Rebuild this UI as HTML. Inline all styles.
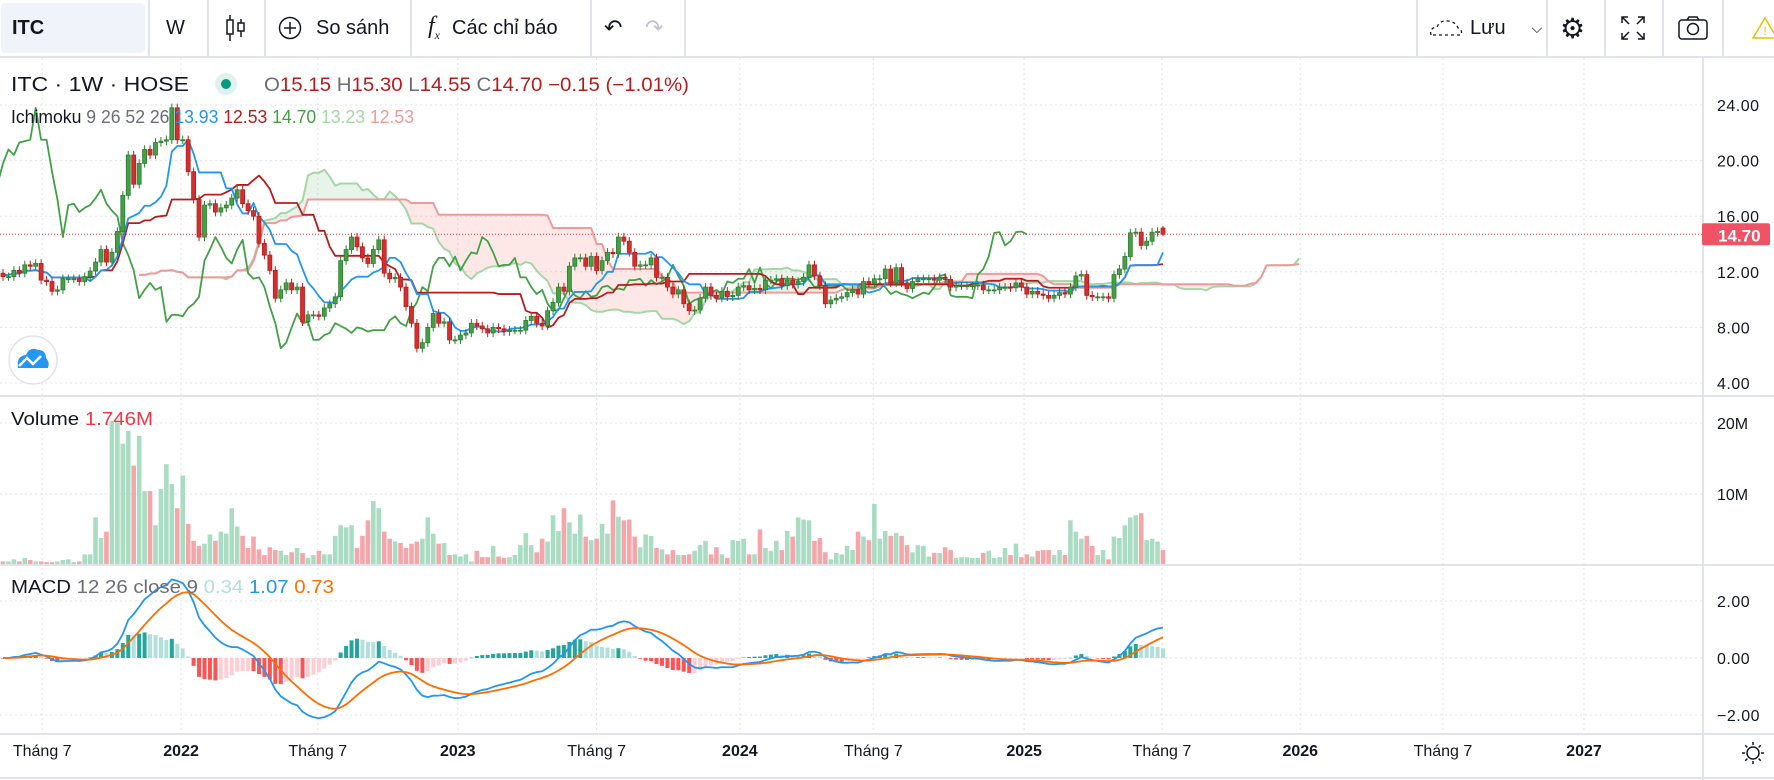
<!DOCTYPE html>
<html><head><meta charset="utf-8">
<style>
html,body{margin:0;padding:0;background:#fff;width:1774px;height:780px;overflow:hidden;font-family:"Liberation Sans",sans-serif;color:#131722}
#tb{position:absolute;left:0;top:0;width:1774px;height:56px;border-bottom:2px solid #e0e3eb;background:#fff}
.tbi{position:absolute;top:0;height:56px;display:flex;align-items:center;font-size:20px;color:#131722;white-space:nowrap}
.sep{position:absolute;top:0;width:2px;height:56px;background:#e0e3eb}
svg{position:absolute;left:0;top:0}
</style></head><body>
<div id="tb">
  <div class="tbi" style="left:1px;top:3px;height:50px;width:144px;background:#f0f3fa;border-radius:4px;font-weight:bold;padding-left:11px;box-sizing:border-box">ITC</div>
  <div class="sep" style="left:148px"></div>
  <div class="tbi" style="left:166px">W</div>
  <div class="sep" style="left:207px"></div>
  <div class="tbi" style="left:225px">
    <svg width="22" height="30" style="position:static"><line x1="5" y1="2" x2="5" y2="28" stroke="#131722" stroke-width="1.5"/><rect x="2" y="7" width="6" height="14" fill="#fff" stroke="#131722" stroke-width="1.5"/><line x1="16" y1="6" x2="16" y2="24" stroke="#131722" stroke-width="1.5"/><rect x="13" y="10" width="6" height="8" fill="#fff" stroke="#131722" stroke-width="1.5"/></svg></div>
  <div class="sep" style="left:264px"></div>
  <div class="tbi" style="left:278px">
    <svg width="24" height="24" style="position:static;margin-right:14px"><circle cx="12" cy="12" r="10.5" fill="none" stroke="#131722" stroke-width="1.5"/><line x1="12" y1="6" x2="12" y2="18" stroke="#131722" stroke-width="1.5"/><line x1="6" y1="12" x2="18" y2="12" stroke="#131722" stroke-width="1.5"/></svg>So sánh</div>
  <div class="sep" style="left:410px"></div>
  <div class="tbi" style="left:428px"><span style="font-style:italic;font-family:'Liberation Serif',serif;font-size:24px;margin-right:12px">f<sub style="font-size:12px">x</sub></span>Các chỉ báo</div>
  <div class="sep" style="left:590px"></div>
  <div class="tbi" style="left:604px;font-size:22px">↶</div>
  <div class="tbi" style="left:645px;font-size:22px;color:#c1c4cd">↷</div>
  <div class="sep" style="left:684px"></div>
  <div class="sep" style="left:1416px"></div>
  <div class="tbi" style="left:1428px"><svg width="36" height="20" style="position:static;margin-right:6px"><path d="M3 17 Q1 10 9 9 Q12 2 20 3 Q28 4 30 10 Q35 12 33 17 Z" fill="none" stroke="#131722" stroke-width="1.3" stroke-dasharray="3 3"/></svg>Lưu<span style="margin-left:26px;font-size:14px">⌵</span></div>
  <div class="sep" style="left:1546px"></div>
  <div class="tbi" style="left:1560px;font-size:28px">⚙</div>
  <div class="sep" style="left:1604px"></div>
  <div class="tbi" style="left:1620px"><svg width="26" height="26" style="position:static"><g stroke="#131722" stroke-width="1.5" fill="none"><path d="M2 8V2h6M2 2l7 7M24 8V2h-6M24 2l-7 7M2 18v6h6M2 24l7-7M24 18v6h-6M24 24l-7-7"/></g></svg></div>
  <div class="sep" style="left:1662px"></div>
  <div class="tbi" style="left:1677px"><svg width="32" height="26" style="position:static"><rect x="2" y="5" width="28" height="19" rx="3" fill="none" stroke="#131722" stroke-width="1.5"/><circle cx="16" cy="14" r="5.5" fill="none" stroke="#131722" stroke-width="1.5"/><path d="M10 5l2-3h8l2 3" fill="none" stroke="#131722" stroke-width="1.5"/></svg></div>
  <div class="sep" style="left:1722px"></div>
  <div class="tbi" style="left:1752px"><svg width="26" height="24" style="position:static"><path d="M13 2L25 22H1Z" fill="none" stroke="#e3c100" stroke-width="1.5"/><text x="13" y="19" font-size="12" text-anchor="middle" fill="#e3c100" font-family="Liberation Sans">!</text></svg></div>
</div>
<svg id="chart" width="1774" height="780" style="top:0">
  <defs>
    <clipPath id="cp"><rect x="0" y="58" width="1702" height="338"/></clipPath>
    <clipPath id="cv"><rect x="0" y="397" width="1702" height="168"/></clipPath>
    <clipPath id="cm"><rect x="0" y="566" width="1702" height="168"/></clipPath>
  </defs>
  <g id="grid"></g>
  <g id="price" clip-path="url(#cp)"></g>
  <g id="vol" clip-path="url(#cv)"></g>
  <g id="macd" clip-path="url(#cm)"></g>
  <g id="axes"></g>
  <g id="legend" font-family="Liberation Sans, sans-serif">
    <text x="11" y="91" font-size="20" fill="#131722" textLength="178" lengthAdjust="spacingAndGlyphs">ITC · 1W · HOSE</text>
    <circle cx="226" cy="84" r="11" fill="#e0f2ee"/><circle cx="226" cy="84" r="5" fill="#089981"/>
    <text x="264" y="91" font-size="19" textLength="425" lengthAdjust="spacingAndGlyphs"><tspan fill="#6a6d78">O</tspan><tspan fill="#b71c1c">15.15 </tspan><tspan fill="#6a6d78">H</tspan><tspan fill="#b71c1c">15.30 </tspan><tspan fill="#6a6d78">L</tspan><tspan fill="#b71c1c">14.55 </tspan><tspan fill="#6a6d78">C</tspan><tspan fill="#b71c1c">14.70  −0.15 (−1.01%)</tspan></text>
    <text x="11" y="123" font-size="18" textLength="403" lengthAdjust="spacingAndGlyphs"><tspan fill="#131722">Ichimoku </tspan><tspan fill="#6a6d78">9 26 52 26  </tspan><tspan fill="#2196f3">13.93  </tspan><tspan fill="#b71c1c">12.53  </tspan><tspan fill="#43a047">14.70  </tspan><tspan fill="#a5d6a7">13.23  </tspan><tspan fill="#ef9a9a">12.53</tspan></text>
    <text x="11" y="425" font-size="18" textLength="142" lengthAdjust="spacingAndGlyphs"><tspan fill="#131722">Volume  </tspan><tspan fill="#f23645">1.746M</tspan></text>
    <text x="11" y="593" font-size="18" textLength="323" lengthAdjust="spacingAndGlyphs"><tspan fill="#131722">MACD </tspan><tspan fill="#6a6d78">12 26 close 9  </tspan><tspan fill="#b2dfdb">0.34  </tspan><tspan fill="#2196f3">1.07  </tspan><tspan fill="#ff6d00">0.73</tspan></text>
  </g>
  <g><circle cx="33" cy="360" r="24" fill="#fff" stroke="#e0e3eb" stroke-width="1.5"/><path d="M18 368 Q16 356 26 355 Q30 346 38 350 Q46 350 46 358 Q50 362 48 368 Z" fill="#2196f3"/><path d="M19 366 L27 358 L33 364 L41 356" stroke="#fff" stroke-width="2.5" fill="none"/></g>
</svg>
<script>
const closes=[11.65,11.65,12.1,11.9,12.5,12.4,12.6,11.4,11.3,10.6,10.7,11.5,11.5,11.5,11.3,11.65,12.05,12.7,13.6,12.7,13.4,14.9,17.5,20.4,18.3,19.8,20.8,20.4,21.3,21.4,21.5,23.8,21.5,21.5,19.2,17.2,14.5,16.8,16.9,16.3,16.6,16.8,17.3,17.9,16.9,16.4,16.0,14.05,13.2,12.1,10.1,10.7,11.2,10.7,10.9,
8.4,8.9,8.9,8.8,9.4,9.7,10.2,12.8,13.6,14.5,13.8,13.0,12.6,13.6,14.3,11.9,11.5,11.6,10.9,9.5,8.3,6.5,6.9,8.0,9.0,8.3,8.4,7.1,7.1,7.45,7.6,8.3,8.1,7.9,7.6,8.0,7.9,7.7,7.8,7.8,7.8,8.5,8.8,8.3,8.1,9.2,9.8,10.9,10.6,12.4,13.0,13.0,12.4,13.1,
12.1,12.8,13.4,13.3,14.5,14.2,13.4,12.4,12.5,12.5,13.0,11.6,11.6,10.9,10.4,10.7,9.7,9.2,9.25,10.1,10.9,10.3,10.1,10.6,10.2,10.3,10.9,11.0,10.7,10.8,10.7,11.4,11.4,11.5,11.0,11.4,11.1,11.3,11.6,12.5,11.7,11.0,9.7,9.97,10.1,10.2,10.5,10.7,10.4,11.3,11.2,11.5,11.5,
12.2,11.2,12.3,11.2,10.8,11.3,11.5,11.5,11.5,11.4,11.6,11.45,10.9,11.0,11.0,11.0,11.0,11.05,10.7,10.7,10.7,10.9,10.9,10.85,11.2,10.9,10.4,10.6,10.4,10.3,10.1,10.3,10.5,10.4,10.9,11.7,11.8,10.3,10.2,10.2,10.2,10.1,11.8,12.2,13.1,14.8,14.85,13.9,14.2,14.85,14.9,14.7];
const volumes=[0.5,0.5,0.8,0.5,1.0,0.7,0.5,0.5,0.4,0.4,0.5,0.7,0.8,0.4,0.5,1.5,1.5,6.7,3.8,4.7,20.3,20.3,17.1,18.9,14.0,18.2,10.4,10.4,5.6,10.7,14.2,11.4,8.0,12.6,5.8,3.4,2.7,3.0,4.3,3.4,4.7,4.4,8.0,5.4,4.1,2.4,4.0,2.2,1.4,2.5,2.1,2.0,1.4,1.8,2.4,1.7,1.0,1.4,2.0,1.5,1.5,4.1,5.6,5.3,5.6,2.4,4.1,6.3,9.0,8.0,4.7,3.7,3.3,3.1,2.4,3.0,3.3,3.7,6.7,4.4,3.0,3.1,1.4,1.5,1.2,1.5,0.5,2.0,1.1,1.1,2.7,1.2,1.0,1.1,1.4,2.8,4.5,2.8,1.8,3.7,3.3,7.0,4.8,8.0,6.0,4.4,7.1,4.0,
3.5,3.7,5.8,4.4,9.1,6.8,6.3,6.4,4.0,2.5,4.3,4.1,2.4,2.2,1.5,2.1,1.4,1.4,1.5,2.0,2.8,3.4,1.5,2.5,1.5,1.0,3.5,3.4,3.7,1.5,1.5,5.0,2.4,2.0,3.4,2.1,4.8,4.0,6.7,6.4,6.3,3.4,3.8,1.8,0.8,1.7,1.5,2.7,2.1,4.7,4.0,3.5,8.6,3.7,4.8,4.1,4.5,4.1,2.8,1.8,2.8,2.7,1.2,1.7,1.7,2.5,2.1,1.0,1.1,1.1,1.0,1.0,1.7,2.0,1.0,1.1,2.4,1.4,3.0,1.1,1.5,1.2,2.0,2.1,2.1,1.4,2.1,1.4,6.3,4.7,3.7,4.1,2.7,1.4,2.1,0.8,4.0,3.8,5.6,6.7,7.0,7.3,3.5,3.7,3.3,2.1];
const priceTicks=["24.00","20.00","16.00","12.00","8.00","4.00"];
const volTicks=["20M","10M"];
const macdTicks=["2.00","0.00","−2.00"];
const timeLabels=["Tháng 7","2022","Tháng 7","2023","Tháng 7","2024","Tháng 7","2025","Tháng 7","2026","Tháng 7","2027"];
const timeWeeks=[7.2,32.7,57.8,83.5,109,135.3,159.8,187.5,212.8,238.2,264.4,290.3];
const lastOpen=15.15, lastHigh=15.30, lastLow=14.55;

const NS="http://www.w3.org/2000/svg";
const N=closes.length;
const step=1160/(N-1);
const X=i=>3+i*step;
const Y=p=>105+(24-p)*13.9;
const YV=v=>565-v*7.1;
const YM=m=>658-m*28.5;
function mk(tag,attrs,parent){const e=document.createElementNS(NS,tag);for(const k in attrs)e.setAttribute(k,attrs[k]);parent.appendChild(e);return e;}
const grid=document.getElementById('grid'),axes=document.getElementById('axes');
const gP=document.getElementById('price'),gV=document.getElementById('vol'),gM=document.getElementById('macd');

priceTicks.forEach(t=>{const y=Y(parseFloat(t));
  const l=mk('line',{x1:0,x2:1702,y1:y,y2:y,stroke:'#e0e3eb','stroke-dasharray':'2 3'},grid);
  
  const tx=mk('text',{x:1717,y:y+6,'font-size':16,fill:'#131722','font-family':'Liberation Sans, sans-serif','letter-spacing':'0.5'},axes);tx.textContent=t;
  });
volTicks.forEach(t=>{const y=YV(parseFloat(t));
  const l=mk('line',{x1:0,x2:1702,y1:y,y2:y,stroke:'#e0e3eb','stroke-dasharray':'2 3'},grid);
  
  const tx=mk('text',{x:1717,y:y+6,'font-size':16,fill:'#131722','font-family':'Liberation Sans, sans-serif'},axes);tx.textContent=t;
  });
macdTicks.forEach(t=>{const y=YM(parseFloat(t.replace('−','-')));
  const l=mk('line',{x1:0,x2:1702,y1:y,y2:y,stroke:'#e0e3eb','stroke-dasharray':'2 3'},grid);
  
  const tx=mk('text',{x:1717,y:y+6,'font-size':16,fill:'#131722','font-family':'Liberation Sans, sans-serif','letter-spacing':'0.5'},axes);tx.textContent=t;
  });
timeLabels.forEach((t,k)=>{const x=X(timeWeeks[k]);
  const l=mk('line',{x1:x,x2:x,y1:58,y2:734,stroke:'#e0e3eb','stroke-dasharray':'2 3'},grid);
  
  const tx=mk('text',{x:x,y:756,'font-size':16,fill:'#131722','text-anchor':'middle','font-family':'Liberation Sans, sans-serif','font-weight':/^\d/.test(t)?'bold':'normal'},axes);tx.textContent=t;
  });
[[0,396,1774,396],[0,565,1774,565],[0,734,1774,734],[1703,58,1703,780],[0,778,1774,778]].forEach(a=>{
  const l=mk('line',{x1:a[0],y1:a[1],x2:a[2],y2:a[3],stroke:'#e0e3eb','stroke-width':2},axes);
  });
const sun=mk('g',{},axes);
mk('circle',{cx:1753,cy:753,r:6,fill:'none',stroke:'#131722','stroke-width':1.5},sun);
for(let a=0;a<8;a++){const r=a*Math.PI/4;mk('line',{x1:1753+8*Math.cos(r),y1:753+8*Math.sin(r),x2:1753+11*Math.cos(r),y2:753+11*Math.sin(r),stroke:'#131722','stroke-width':1.5},sun);}

const opens=closes.map((c,i)=>i===0?11.9:closes[i-1]);opens[N-1]=lastOpen;
const highs=closes.map((c,i)=>Math.max(c,opens[i])+0.3);highs[N-1]=lastHigh;
const lows=closes.map((c,i)=>Math.min(c,opens[i])-0.3);lows[N-1]=lastLow;

function hl(i,n){let h=-1e9,l=1e9;for(let k=Math.max(0,i-n+1);k<=i;k++){h=Math.max(h,highs[k]);l=Math.min(l,lows[k]);}return (h+l)/2;}
const conv=closes.map((c,i)=>hl(i,9)), base=closes.map((c,i)=>hl(i,26));
const spanA=[],spanB=[];for(let i=0;i<N;i++){spanA[i+25]=(conv[i]+base[i])/2;spanB[i+25]=hl(i,52);}
for(let i=25;i<N+24;i++){const a0=spanA[i],a1=spanA[i+1],b0=spanB[i],b1=spanB[i+1];
  const p=mk('polygon',{points:`${X(i)},${Y(a0)} ${X(i+1)},${Y(a1)} ${X(i+1)},${Y(b1)} ${X(i)},${Y(b0)}`,fill:(a0+a1>=b0+b1)?'rgba(67,160,71,0.12)':'rgba(244,67,54,0.12)',stroke:'none'},gP);
  }
function poly(arr,off,color,w,name,g,yf){const pts=[];arr.forEach((v,i)=>{if(v!==undefined)pts.push(X(i+off)+','+yf(v));});
  const e=mk('polyline',{points:pts.join(' '),fill:'none',stroke:color,'stroke-width':w,'stroke-linejoin':'round'},g);
  return e;}
poly(spanA,0,'#a5d6a7',2,'leading-span-a',gP,Y);
poly(spanB,0,'#ef9a9a',2,'leading-span-b',gP,Y);
poly(closes,-25,'#43a047',1.8,'lagging-span',gP,Y);
poly(base,0,'#b71c1c',1.8,'base-line',gP,Y);
poly(conv,0,'#2196f3',1.8,'conversion-line',gP,Y);
for(let i=0;i<N;i++){const up=closes[i]>=opens[i];const x=X(i);
  const col=up?'#43a047':'#d32f2f',bd=up?'#2e7d32':'#b71c1c';
  const g=mk('g',{},gP);
  mk('line',{x1:x,x2:x,y1:Y(highs[i]),y2:Y(lows[i]),stroke:bd,'stroke-width':1},g);
  const t=Y(Math.max(opens[i],closes[i])),b=Y(Math.min(opens[i],closes[i]));
  mk('rect',{x:x-2,y:t,width:4,height:Math.max(1,b-t),fill:col,stroke:bd,'stroke-width':0.8},g);}
const ly=Y(closes[N-1]);
const pl=mk('line',{x1:0,x2:1702,y1:ly,y2:ly,stroke:'#f23645','stroke-dasharray':'1 2'},axes);

const tag=mk('rect',{x:1702,y:ly-11,width:68,height:22,rx:2,fill:'#f05365'},axes);

const tt=mk('text',{x:1718,y:ly+7,'font-size':17,fill:'#fff','font-weight':'bold','font-family':'Liberation Sans, sans-serif'},axes);tt.textContent=closes[N-1].toFixed(2);

for(let i=0;i<N;i++){const v=volumes[i]||0;const up=closes[i]>=opens[i];
  const r=mk('rect',{x:X(i)-2.3,y:YV(v),width:4.6,height:v*7.1,fill:up?'#a9dcc3':'#f5a6ab'},gV);
  }
function ema(arr,n){const k=2/(n+1);const o=[];arr.forEach((v,i)=>o.push(i===0?v:v*k+o[i-1]*(1-k)));return o;}
const e12=ema(closes,12),e26=ema(closes,26);
const macd=e12.map((v,i)=>v-e26[i]);const sig=ema(macd,9);const hist=macd.map((v,i)=>v-sig[i]);
for(let i=0;i<N;i++){const h=hist[i],ph=i?hist[i-1]:0;
  const c=h>=0?(h>=ph?'#26a69a':'#b2dfdb'):(h<ph?'#ff5252':'#ffcdd2');
  const y0=YM(0),y1=YM(h);
  const r=mk('rect',{x:X(i)-2,y:Math.min(y0,y1),width:4,height:Math.max(0.5,Math.abs(y1-y0)),fill:c},gM);
  }
poly(macd,0,'#2196f3',1.8,'macd-line',gM,YM);
poly(sig,0,'#ff6d00',1.8,'signal-line',gM,YM);
</script>
</body></html>
